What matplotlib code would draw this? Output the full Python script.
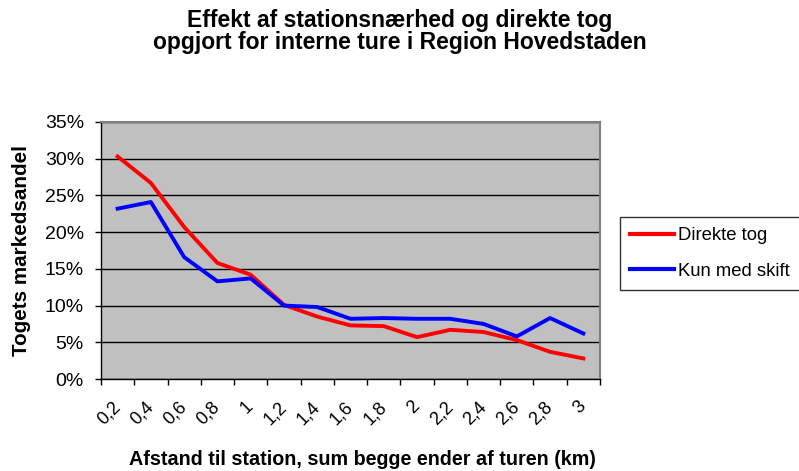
import matplotlib
matplotlib.use("Agg")
import matplotlib.pyplot as plt
from matplotlib.ticker import FixedLocator, FuncFormatter

plt.rcParams['font.family'] = ['Liberation Sans', 'DejaVu Sans']

# afstand til station (km), kategorier på x-aksen
afstand = ["0,2", "0,4", "0,6", "0,8", "1", "1,2", "1,4", "1,6", "1,8",
           "2", "2,2", "2,4", "2,6", "2,8", "3"]

# markedsandel i procent
direkte_tog = [30.3, 26.7, 20.7, 15.8, 14.2, 10.1, 8.5, 7.3, 7.2,
               5.7, 6.7, 6.4, 5.3, 3.7, 2.8]
kun_med_skift = [23.2, 24.1, 16.6, 13.3, 13.7, 10.0, 9.8, 8.2, 8.3,
                 8.2, 8.2, 7.5, 5.8, 8.3, 6.2]

W, H = 799, 471
fig = plt.figure(figsize=(W / 100, H / 100), dpi=100)
ax = fig.add_axes([101 / W, 1 - 379 / H, 499 / W, 257 / H])
ax.set_facecolor("#c0c0c0")

x = list(range(len(afstand)))
ax.plot(x, direkte_tog, color="#ff0000", lw=2.8, label="Direkte tog", zorder=3)
ax.plot(x, kun_med_skift, color="#0000ff", lw=2.8, label="Kun med skift", zorder=3)

ax.set_xlim(-0.5, len(afstand) - 0.5)
ax.set_ylim(0, 35)

# y-akse
ax.set_yticks(range(0, 36, 5))
ax.yaxis.set_major_formatter(FuncFormatter(lambda v, p: f"{int(v)}%"))
ax.grid(axis="y", color="black", lw=1, zorder=1)
ax.set_axisbelow(True)

# x-akse: mærker mellem kategorier, tekst i midten
ax.xaxis.set_major_locator(FixedLocator([i - 0.5 for i in range(len(afstand) + 1)]))
ax.xaxis.set_major_formatter(FuncFormatter(lambda v, p: ""))
ax.xaxis.set_minor_locator(FixedLocator(x))
ax.set_xticklabels(afstand, minor=True, rotation=45, ha="right", va="center",
                   rotation_mode="anchor")
ax.tick_params(axis="x", which="minor", length=0, pad=18, labelsize=13)
ax.tick_params(axis="x", which="major", length=4, width=1, direction="out")
ax.tick_params(axis="y", length=4.3, width=1, direction="out", labelsize=14, pad=8)

for s in ["top", "right"]:
    ax.spines[s].set_color("#808080")
    ax.spines[s].set_linewidth(1.5)
for s in ["left", "bottom"]:
    ax.spines[s].set_color("black")
    ax.spines[s].set_linewidth(1)

ax.set_xlabel("Afstand til station, sum begge ender af turen (km)",
              fontsize=14.2, fontweight="bold")
ax.xaxis.set_label_coords((362.5 - 101) / 499, (379 - 450) / 257)
ax.set_ylabel("Togets markedsandel", fontsize=14.9, fontweight="bold")
ax.yaxis.set_label_coords((31 - 101) / 499, 0.5)

# titel i to linjer
fig.text(0.5, 1 - 27 / H, "Effekt af stationsnærhed og direkte tog",
         ha="center", va="baseline", fontsize=16.5, fontweight="bold")
fig.text(0.5, 1 - 49 / H, "opgjort for interne ture i Region Hovedstaden",
         ha="center", va="baseline", fontsize=16.5, fontweight="bold")

leg = fig.legend(loc="upper left", bbox_to_anchor=(620 / W, 1 - 217 / H),
                 fontsize=13.3, frameon=True, fancybox=False, edgecolor="black",
                 handlelength=2.4, borderpad=0.55, labelspacing=1.0,
                 handletextpad=0.2, borderaxespad=0)
leg.get_frame().set_linewidth(1)
for line in leg.get_lines():
    line.set_linewidth(3)

fig.savefig("out.png", dpi=100)
